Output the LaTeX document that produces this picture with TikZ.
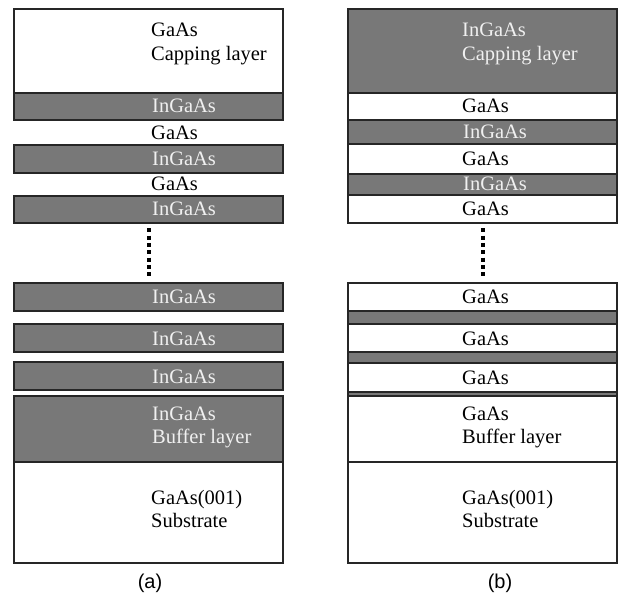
\documentclass[tikz,border=0pt]{standalone}
\usepackage{fontspec}
\setmainfont{Liberation Serif}
\newfontfamily\capfont{Liberation Sans}
\definecolor{layergray}{RGB}{120,120,120}
\definecolor{lighttxt}{RGB}{240,240,240}
\begin{document}
\begin{tikzpicture}[x=1pt,y=-1pt,
  layerbox/.style={draw=black!85,line width=1.3pt,inner sep=0pt,outer sep=0pt,anchor=north west,minimum width=269pt},
  darklayer/.style={layerbox,fill=layergray},
  lightlayer/.style={layerbox,fill=white},
  txt/.style={anchor=base west,inner sep=0pt,font=\fontsize{20.5}{24}\selectfont},
  wtxt/.style={txt,text=lighttxt},
  btxt/.style={txt,text=black},
  dotline/.style={line width=4pt,dash pattern=on 4pt off 3.33pt},
  caption/.style={font=\capfont\fontsize{20}{23}\selectfont,inner sep=0pt}]
\useasboundingbox (0,0) rectangle (623,593);
\fill[white] (0,0) rectangle (623,593);
% ---------- panel (a) ----------
\node[lightlayer,minimum height=84pt] (acap) at (14,9) {};
\node[darklayer,minimum height=27pt] (al1) at (14,93) {};
\node[darklayer,minimum height=28pt] (al2) at (14,145) {};
\node[darklayer,minimum height=27pt] (al3) at (14,196) {};
\node[darklayer,minimum height=28pt] (al4) at (14,283) {};
\node[darklayer,minimum height=28pt] (al5) at (14,324) {};
\node[darklayer,minimum height=28pt] (al6) at (14,362) {};
\node[darklayer,minimum height=66pt] (abuf) at (14,396) {};
\node[lightlayer,minimum height=101pt] (asub) at (14,462) {};
\node[btxt] (acapt1) at (151,37) {GaAs};
\node[btxt] (acapt2) at (151,61) {Capping layer};
\node[wtxt] (al1t) at (152,113) {InGaAs};
\node[btxt] (ag1t) at (151,139.5) {GaAs};
\node[wtxt] (al2t) at (152,166) {InGaAs};
\node[btxt] (ag2t) at (151,191) {GaAs};
\node[wtxt] (al3t) at (152,216) {InGaAs};
\node[wtxt] (al4t) at (152,304) {InGaAs};
\node[wtxt] (al5t) at (152,345) {InGaAs};
\node[wtxt] (al6t) at (152,383) {InGaAs};
\node[wtxt] (abuft1) at (152,420) {InGaAs};
\node[wtxt] (abuft2) at (152,443) {Buffer layer};
\node[btxt] (asubt1) at (151,504) {GaAs(001)};
\node[btxt] (asubt2) at (151,527) {Substrate};
\coordinate (adt) at (149,228.3);
\coordinate (adb) at (149,276.3);
\draw[dotline] (adt) -- (adb);
\node[caption] (acap0) at (150,583) {(a)};
% ---------- panel (b) ----------
\node[darklayer,minimum height=84pt] (bcap) at (348,9) {};
\node[lightlayer,minimum height=27pt] (bg1) at (348,93) {};
\node[darklayer,minimum height=24pt] (bl1) at (348,120) {};
\node[lightlayer,minimum height=30pt] (bg2) at (348,144) {};
\node[darklayer,minimum height=21pt] (bl2) at (348,174) {};
\node[lightlayer,minimum height=28pt] (bg3) at (348,195) {};
\node[lightlayer,minimum height=28pt] (bg4) at (348,283) {};
\node[darklayer,minimum height=13pt] (bl4) at (348,311) {};
\node[lightlayer,minimum height=28pt] (bg5) at (348,324) {};
\node[darklayer,minimum height=11pt] (bl5) at (348,352) {};
\node[lightlayer,minimum height=29pt] (bg6) at (348,363) {};
\node[darklayer,minimum height=4pt] (bl6) at (348,392) {};
\node[lightlayer,minimum height=66pt] (bbuf) at (348,396) {};
\node[lightlayer,minimum height=101pt] (bsub) at (348,462) {};
\node[wtxt] (bcapt1) at (462,37) {InGaAs};
\node[wtxt] (bcapt2) at (462,61) {Capping layer};
\node[btxt] (bg1t) at (462,113) {GaAs};
\node[wtxt] (bl1t) at (463,139) {InGaAs};
\node[btxt] (bg2t) at (462,166) {GaAs};
\node[wtxt] (bl2t) at (463,191) {InGaAs};
\node[btxt] (bg3t) at (462,216) {GaAs};
\node[btxt] (bg4t) at (462,304) {GaAs};
\node[btxt] (bg5t) at (462,345) {GaAs};
\node[btxt] (bg6t) at (462,384) {GaAs};
\node[btxt] (bbuft1) at (462,420) {GaAs};
\node[btxt] (bbuft2) at (462,443) {Buffer layer};
\node[btxt] (bsubt1) at (462,504) {GaAs(001)};
\node[btxt] (bsubt2) at (462,527) {Substrate};
\coordinate (bdt) at (483.3,228.3);
\coordinate (bdb) at (483.3,276.3);
\draw[dotline] (bdt) -- (bdb);
\node[caption] (bcap0) at (500,583) {(b)};
\end{tikzpicture}
\end{document}
